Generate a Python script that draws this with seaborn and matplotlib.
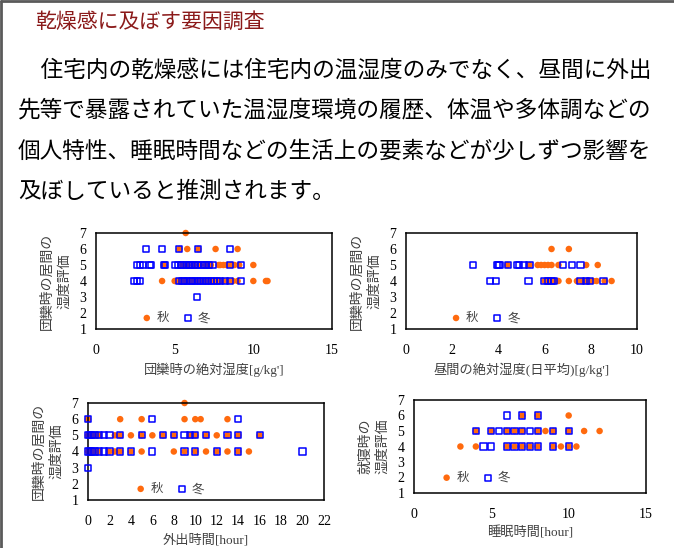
import matplotlib
matplotlib.use("Agg")
import matplotlib.pyplot as plt
import seaborn as sns
import pandas as pd
from matplotlib.lines import Line2D

# --- slide text ---
title = "乾燥感に及ぼす要因調査"
body_lines = [
    "　住宅内の乾燥感には住宅内の温湿度のみでなく、昼間に外出",
    "先等で暴露されていた温湿度環境の履歴、体温や多体調などの",
    "個人特性、睡眠時間などの生活上の要素などが少しずつ影響を",
    "及ぼしていると推測されます。",
]

# --- data: humidity rating -> x values ---
# panel 1: 団欒時の絶対湿度
p1_aut = {7: [5.7],
          6: [5.3, 5.8, 6.5, 7.6, 9.0],
          5: [4.3, 5.5, 5.8, 6.2, 6.6, 7.0, 7.3, 7.8, 7.9, 8.1, 8.3, 8.6, 8.8, 9.1, 10.0],
          4: [4.2, 5.0, 5.2, 5.4, 5.7, 6.0, 6.3, 6.6, 6.9, 7.2, 7.5, 7.7, 7.9, 8.1, 8.4,
              8.7, 9.0, 10.0, 10.8, 10.9]}
p1_win = {6: [3.2, 4.2, 5.3, 6.5, 8.5],
          5: [2.6, 2.8, 3.0, 3.4, 3.5, 4.3, 4.4, 5.0, 5.2, 5.4, 5.5, 5.7, 5.9, 6.0, 6.2,
              6.3, 6.5, 6.7, 6.9, 7.0, 7.2, 7.4, 8.5, 9.2],
          4: [2.4, 2.6, 2.8, 5.3, 5.5, 5.6, 5.8, 6.0, 6.1, 6.3, 6.5, 6.6, 6.8, 7.0, 7.1,
              7.3, 7.5, 7.7, 7.9, 8.2, 8.5, 9.2],
          3: [6.4]}

# panel 2: 昼間の絶対湿度(日平均)
p2_aut = {6: [6.3, 7.05],
          5: [4.4, 5.35, 5.7, 5.85, 6.0, 6.15, 6.3, 6.6, 7.8, 8.3],
          4: [6.0, 6.2, 6.4, 6.6, 7.05, 7.4, 7.6, 7.8, 7.95, 8.1, 8.25, 8.6, 8.9]}
p2_win = {5: [2.9, 3.95, 4.0, 4.05, 4.4, 4.8, 4.9, 5.1, 5.35, 6.8, 7.2, 7.55],
          4: [3.65, 3.9, 5.3, 6.0, 6.15, 6.3, 6.4, 7.55, 7.8, 7.95, 8.55]}

# panel 3: 外出時間
p3_aut = {7: [9],
          6: [0, 3, 5, 9, 10, 10.5, 13],
          5: [0, 0.5, 1, 2.5, 3, 4, 5, 6, 7, 8, 9.5, 10, 11, 12, 13, 14, 16],
          4: [0, 0.5, 1, 2, 2.5, 3, 4, 5, 8, 9, 10, 11, 12, 13, 14, 15]}
p3_win = {6: [0, 6, 14],
          5: [0, 0.2, 0.4, 0.6, 1, 1.5, 2, 3, 5, 7, 8, 9, 9.5, 10, 11, 13, 14, 16],
          4: [0, 0.2, 0.4, 0.6, 1, 1.5, 2, 3, 4, 6, 9, 10, 12, 14, 20],
          3: [0]}

# panel 4: 睡眠時間
p4_aut = {6: [7, 8, 10],
          5: [4, 5, 6, 6.5, 7, 8, 8.5, 9, 10, 11, 12],
          4: [3, 4, 6, 6.5, 7, 7.5, 8, 9, 9.5, 10, 10.5]}
p4_win = {6: [6, 7, 8],
          5: [4, 5, 5.5, 6, 6.5, 7, 7.5, 8, 9, 10],
          4: [4.5, 5, 6, 6.5, 7, 7.5, 8, 9, 10]}

xlabels = ["団欒時の絶対湿度[g/kg']", "昼間の絶対湿度(日平均)[g/kg']",
           "外出時間[hour]", "睡眠時間[hour]"]
ylabels = ["団欒時の居間の\n湿度評価", "団欒時の居間の\n湿度評価",
           "団欒時の居間の\n湿度評価", "就寝時の\n湿度評価"]
xlims = [(0, 15), (0, 10), (0, 22), (0, 15)]
xsteps = [5, 2, 2, 5]
seasons = ["秋", "冬"]


def to_frame(levels, season):
    rows = [(x, y, season) for y, xs in levels.items() for x in xs]
    return pd.DataFrame(rows, columns=["x", "評価", "季節"])


sns.set_style("white")
plt.rcParams["font.family"] = ["Liberation Serif", "Noto Sans CJK JP"]

fig = plt.figure(figsize=(6.74, 5.48), dpi=100)
W, H = 674, 548

# slide frame (top and left edges only)
fig.add_artist(Line2D([0.002, 0.002], [0, 0.998], transform=fig.transFigure,
                      color="#5a5a5a", lw=2))
fig.add_artist(Line2D([0.002, 1], [0.998, 0.998], transform=fig.transFigure,
                      color="#5a5a5a", lw=2))

fig.text(35 / W, 1 - 22 / H, title, color="#8B1A1A", fontsize=15,
         family=["Noto Sans CJK JP"], va="center", ha="left")
for line, yc in zip(body_lines, [70, 110, 151, 191]):
    fig.text(18 / W, 1 - yc / H, line, color="black", fontsize=16.3,
             family=["Noto Sans CJK JP"], va="center", ha="left")

# axes frames in pixels: left, right, top, bottom
frames = [(96, 332, 233, 329), (406, 637, 233, 329),
          (88, 324, 403, 500), (414, 646, 400, 493)]
legend_pos = [(0.194, 0.117), (0.195, 0.117), (0.202, 0.117), (0.119, 0.167)]
panels = [(p1_aut, p1_win), (p2_aut, p2_win), (p3_aut, p3_win), (p4_aut, p4_win)]

for k, ((aut, win), (l, r, t, b)) in enumerate(zip(panels, frames)):
    ax = fig.add_axes([l / W, 1 - b / H, (r - l) / W, (b - t) / H])
    sns.scatterplot(data=to_frame(aut, seasons[0]), x="x", y="評価", ax=ax,
                    marker="o", color="#FF6A0E", edgecolor="none", s=22,
                    label=seasons[0], zorder=2, clip_on=False)
    sns.scatterplot(data=to_frame(win, seasons[1]), x="x", y="評価", ax=ax,
                    marker="s", color="#0000FF", facecolors="none",
                    edgecolor="#0000FF", linewidth=1.1, s=20,
                    label=seasons[1], zorder=3, clip_on=False)
    ax.set_xlim(*xlims[k])
    ax.set_ylim(1, 7)
    ax.set_xticks(range(xlims[k][0], xlims[k][1] + 1, xsteps[k]))
    ax.set_yticks(range(1, 8))
    ax.tick_params(axis="both", direction="in", length=3, width=0.8,
                   labelsize=10, colors="black")
    ax.tick_params(axis="x", pad=11)
    ax.tick_params(axis="y", pad=7)
    for sp in ax.spines.values():
        sp.set_visible(True)
        sp.set_color("black")
        sp.set_linewidth(1.1)
    ax.set_xlabel(xlabels[k], fontsize=9.5, color="#404040", labelpad=4)
    ax.set_ylabel(ylabels[k], fontsize=10, color="#404040", labelpad=6,
                  linespacing=1.35)
    ax.legend(loc="center left", bbox_to_anchor=legend_pos[k], ncol=2,
              frameon=False, borderpad=0, borderaxespad=0,
              handlelength=0.8, handletextpad=0.4, columnspacing=1.1,
              labelcolor="#404040", prop={"family": ["Noto Sans CJK JP"], "size": 9})

fig.savefig("out.png", dpi=100)
